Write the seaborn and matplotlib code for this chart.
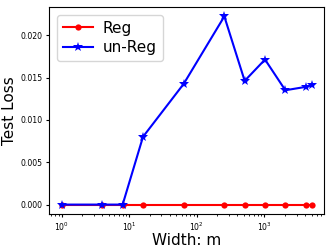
import pandas as pd
import matplotlib
matplotlib.use("Agg")
import matplotlib.pyplot as plt
import seaborn as sns

# widths m and the test loss for each model
widths = [1, 4, 8, 16, 64, 256, 512, 1024, 2048, 4096, 5000]
reg_loss = [0, 0, 0, 0, 0, 0, 0, 0, 0, 0, 0]
unreg_loss = [0.0, 0.0, 0.0, 0.0080, 0.01425, 0.02222, 0.01461, 0.01713, 0.01350, 0.01390, 0.01410]

df = pd.DataFrame({
    "m": widths * 2,
    "loss": reg_loss + unreg_loss,
    "model": ["Reg"] * len(widths) + ["un-Reg"] * len(widths),
})

fig = plt.figure(figsize=(3.32, 2.5), dpi=100)
ax = fig.add_axes([0.148, 0.144, 0.828, 0.828])

sns.lineplot(data=df[df.model == "Reg"], x="m", y="loss", color="red", marker="o",
             markersize=4.5, markeredgewidth=0, linewidth=1.5, label="Reg", ax=ax)
sns.lineplot(data=df[df.model == "un-Reg"], x="m", y="loss", color="blue", marker="*",
             markersize=7, markeredgewidth=0, linewidth=1.5, label="un-Reg", ax=ax)

ax.set_xscale("log")
ax.set_xlabel("Width: m", fontsize=11, labelpad=0)
ax.set_ylabel("Test Loss", fontsize=11, labelpad=3)
ax.tick_params(labelsize=5.6, length=2.5, pad=2)
ax.tick_params(which="minor", length=1.5)
ax.legend(loc="upper left", fontsize=11, handlelength=2.0, handletextpad=0.6,
          borderpad=0.4, labelspacing=0.3)

plt.savefig("out.png", dpi=100)
plt.close()
